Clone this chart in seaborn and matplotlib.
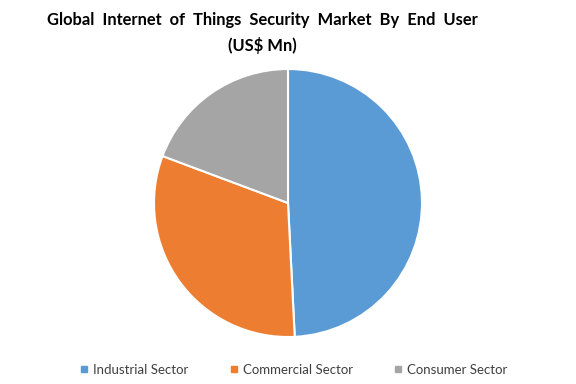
import matplotlib
matplotlib.use("Agg")
import matplotlib.pyplot as plt
import seaborn as sns
from matplotlib.lines import Line2D

sns.set_theme(style="white")
plt.rcParams['font.family'] = ['Lato', 'DejaVu Sans']

categories = ["Industrial Sector", "Commercial Sector", "Consumer Sector"]
values = [49.2, 31.5, 19.3]
colors = sns.color_palette(["#5B9BD5", "#ED7D31", "#A5A5A5"])

fig = plt.figure(figsize=(5.76, 3.84), dpi=100)
cx, cy, r = 288, 203, 134
ax = fig.add_axes([(cx - r)/576, 1 - (cy + r)/384, 2*r/576, 2*r/384])
ax.pie(values, colors=colors, startangle=90, counterclock=False, radius=1,
       wedgeprops=dict(edgecolor="white", linewidth=1.5))
ax.set_xlim(-1, 1)
ax.set_ylim(-1, 1)
ax.set_aspect("equal")

fig.text(262/576, 1 - 20/384, "Global  Internet  of  Things  Security  Market  By  End  User",
         ha="center", va="center", fontsize=11.9, fontweight="bold", color="black")
fig.text(262/576, 1 - 45/384, "(US$ Mn)", ha="center", va="center",
         fontsize=11.9, fontweight="bold", color="black")

handles = [Line2D([0], [0], marker="s", linestyle="none", markersize=5,
                  markerfacecolor=c, markeredgecolor=c) for c in colors]
fig.legend(handles, categories, loc="center", bbox_to_anchor=(293/576, 1 - 370/384),
           ncol=3, frameon=False, fontsize=9.5, handletextpad=0.3, handlelength=0.8,
           columnspacing=3.0, labelcolor="#404040")

fig.savefig("out.png", dpi=100)
